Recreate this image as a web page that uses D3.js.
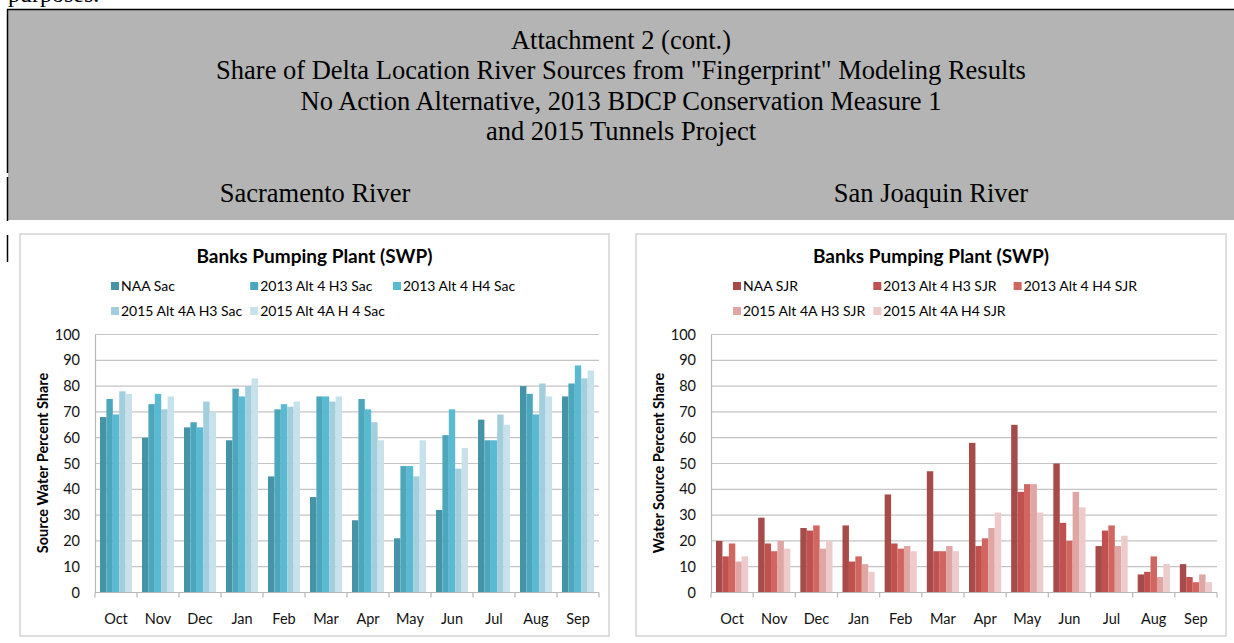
<!DOCTYPE html>
<html>
<head>
<meta charset="utf-8">
<script src="https://cdn.jsdelivr.net/npm/d3@7"></script>
<style>
  body { margin: 0; background: #fff; overflow: hidden; }
  svg { display: block; }
</style>
</head>
<body>
<svg id="page" width="1234" height="643"></svg>
<script>
// values, percent share
const months = ["Oct", "Nov", "Dec", "Jan", "Feb", "Mar", "Apr", "May", "Jun", "Jul", "Aug", "Sep"];
const yTicks = [0, 10, 20, 30, 40, 50, 60, 70, 80, 90, 100];

const sacNames = ["NAA Sac", "2013 Alt 4 H3 Sac", "2013 Alt 4 H4 Sac", "2015 Alt 4A H3 Sac", "2015 Alt 4A H 4 Sac"];
const sacNAA   = [68, 60, 64, 59, 45, 37, 28, 21, 32, 67, 80, 76];
const sac13H3  = [75, 73, 66, 79, 71, 76, 75, 49, 61, 59, 77, 81];
const sac13H4  = [69, 77, 64, 76, 73, 76, 71, 49, 71, 59, 69, 88];
const sac15H3  = [78, 71, 74, 80, 72, 74, 66, 45, 48, 69, 81, 83];
const sac15H4  = [77, 76, 70, 83, 74, 76, 59, 59, 56, 65, 76, 86];

const sjrNames = ["NAA SJR", "2013 Alt 4 H3 SJR", "2013 Alt 4 H4 SJR", "2015 Alt 4A H3 SJR", "2015 Alt 4A H4 SJR"];
const sjrNAA   = [20, 29, 25, 26, 38, 47, 58, 65, 50, 18, 7, 11];
const sjr13H3  = [14, 19, 24, 12, 19, 16, 18, 39, 27, 24, 8, 6];
const sjr13H4  = [19, 16, 26, 14, 17, 16, 21, 42, 20, 26, 14, 4];
const sjr15H3  = [12, 20, 17, 11, 18, 18, 25, 42, 39, 18, 6, 7];
const sjr15H4  = [14, 17, 20, 8, 16, 16, 31, 31, 33, 22, 11, 4];

const sacColors = ["#4593a6", "#4ca7bd", "#59bad2", "#a2cedd", "#c8e2eb"];
const sjrColors = ["#a64b49", "#c0514e", "#d0665f", "#dfa6a4", "#edcbca"];

const svg = d3.select("#page");
const serif = "'Liberation Serif', 'Times New Roman', serif";
const sans = "Lato, 'Open Sans', sans-serif";

// ---- header block ----
// tail of the previous page line, cut off by the top edge as in the source
svg.append("text")
    .attr("x", 8).attr("y", 1.5)
    .style("font-family", serif).style("font-size", "24px")
    .text("purposes.");

svg.append("rect")
    .attr("x", 8).attr("y", 10)
    .attr("width", 1226).attr("height", 210)
    .attr("fill", "#b3b4b3");
svg.append("line")
    .attr("x1", 7).attr("x2", 1234).attr("y1", 9.5).attr("y2", 9.5)
    .attr("stroke", "#000").attr("stroke-width", 1.5);
// left rule, with its small gap
[[9, 173], [177, 221], [235, 262]].forEach(function (s) {
    svg.append("line")
        .attr("x1", 7.5).attr("x2", 7.5).attr("y1", s[0]).attr("y2", s[1])
        .attr("stroke", "#000").attr("stroke-width", 1.5);
});

const headLines = [
    "Attachment 2 (cont.)",
    "Share of Delta Location River Sources from \"Fingerprint\" Modeling Results",
    "No Action Alternative, 2013 BDCP Conservation Measure 1",
    "and 2015 Tunnels Project"
];
svg.append("g").selectAll("text")
    .data(headLines).enter()
    .append("text")
    .attr("x", 621)
    .attr("y", function (d, i) { return 48.5 + i * 30.5; })
    .attr("text-anchor", "middle")
    .style("font-family", serif).style("font-size", "26.5px")
    .text(function (d) { return d; });

svg.append("text").attr("x", 315).attr("y", 201.5).attr("text-anchor", "middle")
    .style("font-family", serif).style("font-size", "26.5px").text("Sacramento River");
svg.append("text").attr("x", 931).attr("y", 201.5).attr("text-anchor", "middle")
    .style("font-family", serif).style("font-size", "26.5px").text("San Joaquin River");

// ---- charts ----
function drawChart(opt) {
    const g = svg.append("g");
    const left = opt.frameX, w = opt.frameW;

    g.append("rect")
        .attr("x", left).attr("y", 234)
        .attr("width", w).attr("height", 402)
        .attr("fill", "#fff")
        .attr("stroke", "#d4d4d4").attr("stroke-width", 1.5);

    const x = d3.scaleBand().domain(months).range([opt.plotX0, opt.plotX1]);
    const xs = d3.scaleBand().domain(d3.range(opt.names.length)).range([5, x.bandwidth() - 5]);
    const y = d3.scaleLinear().domain([0, 100]).range([592.5, 334.5]);

    // gridlines
    g.append("g").selectAll("line")
        .data(yTicks.filter(function (t) { return t > 0; })).enter()
        .append("line")
        .attr("x1", opt.plotX0).attr("x2", opt.plotX1)
        .attr("y1", function (d) { return y(d); }).attr("y2", function (d) { return y(d); })
        .attr("stroke", "#c4c4c4").attr("stroke-width", 1.2);

    // bars
    opt.series.forEach(function (vals, si) {
        g.append("g").selectAll("rect")
            .data(vals).enter()
            .append("rect")
            .attr("x", function (d, i) { return x(months[i]) + xs(si); })
            .attr("width", xs.bandwidth())
            .attr("y", function (d) { return y(d); })
            .attr("height", function (d) { return y(0) - y(d); })
            .attr("fill", opt.colors[si]);
    });

    // y axis
    const yAxis = d3.axisLeft(y).tickValues(yTicks).tickSize(0).tickPadding(15);
    const ya = g.append("g").attr("transform", "translate(" + opt.plotX0 + ",0)").call(yAxis);
    ya.select(".domain").attr("stroke", "#b8b8b8").attr("stroke-width", 1.2);
    ya.selectAll("text").style("font-family", sans).style("font-size", "14.5px").attr("fill", "#111");

    // x axis: ticks at category boundaries
    const xa = g.append("g").attr("transform", "translate(0," + y(0) + ")");
    xa.append("line").attr("x1", opt.plotX0).attr("x2", opt.plotX1)
        .attr("stroke", "#b8b8b8").attr("stroke-width", 1.2);
    xa.selectAll(".bt").data(months.concat(["end"])).enter()
        .append("line")
        .attr("x1", function (d, i) { return opt.plotX0 + i * x.step(); })
        .attr("x2", function (d, i) { return opt.plotX0 + i * x.step(); })
        .attr("y1", 0).attr("y2", 5)
        .attr("stroke", "#b8b8b8").attr("stroke-width", 1.2);
    xa.selectAll(".lab").data(months).enter()
        .append("text")
        .attr("x", function (d) { return x(d) + x.bandwidth() / 2; })
        .attr("y", 31)
        .attr("text-anchor", "middle")
        .style("font-family", sans).style("font-size", "14.5px").attr("fill", "#111")
        .text(function (d) { return d; });

    // axis title
    g.append("text")
        .attr("transform", "translate(" + opt.titleX + ",463) rotate(-90)")
        .attr("text-anchor", "middle")
        .style("font-family", sans).style("font-size", "14.5px").style("font-weight", "bold")
        .text(opt.yTitle);

    // chart title
    g.append("text")
        .attr("x", left + w / 2).attr("y", 263)
        .attr("text-anchor", "middle")
        .style("font-family", sans).style("font-size", "19px").style("font-weight", "bold")
        .text("Banks Pumping Plant (SWP)");

    // legend: 3 columns grid, width of each column = widest label in it
    const leg = g.append("g");
    const items = opt.names.map(function (n, i) {
        const it = leg.append("g");
        it.append("rect").attr("width", 8).attr("height", 8).attr("y", -9).attr("fill", opt.colors[i]);
        const t = it.append("text").attr("x", 10).attr("y", 0)
            .style("font-family", sans).style("font-size", "14px").text(n);
        return { g: it, w: t.node().getComputedTextLength() + 10, col: i % 3, row: Math.floor(i / 3) };
    });
    const colW = [0, 0, 0];
    items.forEach(function (it) { colW[it.col] = Math.max(colW[it.col], it.w); });
    items.forEach(function (it) {
        let cx = opt.legendX;
        for (let c = 0; c < it.col; c++) cx += colW[c] + 8;
        it.g.attr("transform", "translate(" + cx + "," + (291 + it.row * 25) + ")");
    });
}

drawChart({
    frameX: 20, frameW: 589,
    plotX0: 95, plotX1: 599,
    titleX: 48,
    legendX: 111,
    names: sacNames,
    series: [sacNAA, sac13H3, sac13H4, sac15H3, sac15H4],
    colors: sacColors,
    yTitle: "Source Water Percent Share"
});

drawChart({
    frameX: 636, frameW: 590,
    plotX0: 711, plotX1: 1217,
    titleX: 664,
    legendX: 733,
    names: sjrNames,
    series: [sjrNAA, sjr13H3, sjr13H4, sjr15H3, sjr15H4],
    colors: sjrColors,
    yTitle: "Water Source Percent Share"
});
</script>
</body>
</html>
